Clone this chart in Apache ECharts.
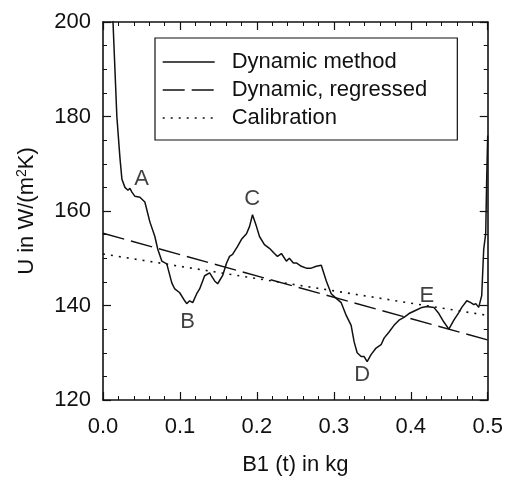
<!DOCTYPE html>
<html>
<head>
<meta charset="utf-8">
<script src="https://cdn.jsdelivr.net/npm/echarts@6/dist/echarts.min.js"></script>
<style>
  html, body { margin: 0; padding: 0; background: #fff; }
  #chart { width: 506px; height: 481px; }
</style>
</head>
<body>
<div id="chart"></div>
<script>
// U-value estimated with the dynamic method, plotted against mass B1(t)
const dynamicB1 = [0.0104, 0.013, 0.0155, 0.018, 0.022, 0.0246, 0.0285, 0.0324, 0.035, 0.0376,
  0.0415, 0.044, 0.048, 0.0544, 0.0609, 0.0674, 0.0712, 0.0764, 0.0829, 0.0894,
  0.0933, 0.0997, 0.1062, 0.1088, 0.1127, 0.1166, 0.1218, 0.1256, 0.1321, 0.1386,
  0.1451, 0.149, 0.1554, 0.1606, 0.1645, 0.1684, 0.1749, 0.18, 0.1865, 0.1904,
  0.1943, 0.1995, 0.2034, 0.2098, 0.2163, 0.2228, 0.2267, 0.2319, 0.2383, 0.2422,
  0.2474, 0.2513, 0.2578, 0.2642, 0.2707, 0.2772, 0.2837, 0.2902, 0.2966, 0.3031,
  0.3096, 0.3161, 0.3225, 0.3264, 0.3303, 0.3355, 0.3394, 0.3433, 0.3484, 0.3549,
  0.3614, 0.3653, 0.3718, 0.3782, 0.3847, 0.3912, 0.3977, 0.4067, 0.4145, 0.421,
  0.43, 0.4365, 0.443, 0.4495, 0.456, 0.4624, 0.4663, 0.4728, 0.478, 0.4819,
  0.4845, 0.4883, 0.4922, 0.4948, 0.4974, 0.4987, 0.5];
const dynamicU = [202.5, 200, 190, 180, 171.3, 166.7, 165, 164.4, 164.8, 164,
  163.1, 163.5, 162.9, 161.9, 157.7, 154.6, 151.9, 149.4, 148.8, 144.8,
  143.5, 142.7, 141, 140.4, 141, 140.6, 142.5, 143.5, 146.3, 146.9,
  145.2, 144.6, 146.3, 149, 150.4, 150.8, 152.5, 154, 155.2, 156.7,
  159.2, 156.7, 154.6, 152.9, 152.1, 151, 150.4, 151, 149.4, 150,
  149, 149, 148.3, 147.9, 147.9, 148.3, 148.5, 145.2, 142.5, 141.5,
  140.6, 137.9, 135.8, 132.3, 130, 129.2, 129.2, 128.1, 129.6, 131,
  131.7, 133.1, 134.4, 135.8, 136.9, 137.5, 138.3, 139, 139.6, 139.8,
  139.6, 138.3, 136.5, 135, 136.9, 138.5, 139.6, 141, 140.6, 140.2,
  140.4, 139.6, 142.1, 151.9, 155.2, 167, 176];

// Linear regression of the dynamic result
const regressedB1 = [0, 0.5];
const regressedU = [155.3, 132.7];

// Calibration line
const calibrationB1 = [0, 0.5];
const calibrationU = [150.9, 137.9];

// Marked points on the curve
const markNames = ['A', 'B', 'C', 'D', 'E'];
const markB1 = [0.05, 0.11, 0.194, 0.337, 0.421];
const markU = [166.7, 136.5, 162.5, 125.4, 142.1];

const xTicks = [0, 0.1, 0.2, 0.3, 0.4, 0.5];
const yTicks = [120, 140, 160, 180, 200];

const seriesNames = ['Dynamic method', 'Dynamic, regressed', 'Calibration'];

const zip = (xs, ys) => xs.map((x, i) => [x, ys[i]]);

const FONT = '"Liberation Sans", Arial, Helvetica, sans-serif';
const INK = '#111';

const SOLID = 'solid';
const DASHED = [22, 7];
const DOTTED = [2, 6];

const chart = echarts.init(document.getElementById('chart'), null, { renderer: 'canvas' });

const axisCommon = {
  axisLine: { show: true, onZero: false, lineStyle: { color: INK, width: 1.6 } },
  axisTick: { show: true, inside: true, length: 8, lineStyle: { color: INK, width: 1.2 } },
  minorTick: { show: true, length: 4, lineStyle: { color: INK, width: 1 } },
  splitLine: { show: false },
  minorSplitLine: { show: false }
};

chart.setOption({
  backgroundColor: '#fff',
  animation: false,
  grid: { left: 103, right: 17, top: 22, bottom: 75, containLabel: false },
  xAxis: [
    Object.assign({}, axisCommon, {
      type: 'value', position: 'bottom',
      min: xTicks[0], max: xTicks[xTicks.length - 1], interval: 0.1,
      minorTick: Object.assign({}, axisCommon.minorTick, { splitNumber: 5 }),
      axisLabel: { color: INK, fontSize: 22, fontFamily: FONT, margin: 16,
        formatter: v => v.toFixed(1) },
      name: 'B1 (t) in kg', nameLocation: 'middle', nameGap: 54,
      nameTextStyle: { color: INK, fontSize: 22, fontFamily: FONT }
    }),
    Object.assign({}, axisCommon, {
      type: 'value', position: 'top',
      min: xTicks[0], max: xTicks[xTicks.length - 1], interval: 0.1,
      minorTick: Object.assign({}, axisCommon.minorTick, { splitNumber: 5 }),
      axisLabel: { show: false }
    })
  ],
  yAxis: [
    Object.assign({}, axisCommon, {
      type: 'value', position: 'left',
      min: yTicks[0], max: yTicks[yTicks.length - 1], interval: 20,
      minorTick: Object.assign({}, axisCommon.minorTick, { splitNumber: 4 }),
      axisLabel: { color: INK, fontSize: 22, fontFamily: FONT, margin: 12 },
      name: 'U in W/(m{sup|2}K)', nameLocation: 'middle', nameGap: 64,
      nameTextStyle: { color: INK, fontSize: 22, fontFamily: FONT,
        rich: { sup: { fontSize: 14, fontFamily: FONT, color: INK,
          verticalAlign: 'top', padding: [0, 0, 10, 0] } } }
    }),
    Object.assign({}, axisCommon, {
      type: 'value', position: 'right',
      min: yTicks[0], max: yTicks[yTicks.length - 1], interval: 20,
      minorTick: Object.assign({}, axisCommon.minorTick, { splitNumber: 4 }),
      axisLabel: { show: false }
    })
  ],
  legend: {
    data: [
      { name: seriesNames[0], lineStyle: { type: SOLID } },
      { name: seriesNames[1], lineStyle: { type: DASHED } },
      { name: seriesNames[2], lineStyle: { type: DOTTED } }
    ],
    orient: 'vertical',
    left: 155, top: 38,
    padding: [13, 30, 11, 7],
    itemWidth: 52, itemHeight: 22, itemGap: 6,
    borderColor: INK, borderWidth: 1.2, borderRadius: 0,
    backgroundColor: '#fff',
    itemStyle: { opacity: 0 },
    textStyle: { color: INK, fontSize: 22, fontFamily: FONT, padding: [0, 0, 0, 12] },
    lineStyle: { width: 1.4, color: INK }
  },
  series: [
    {
      name: seriesNames[0], type: 'line', xAxisIndex: 0, yAxisIndex: 0,
      data: zip(dynamicB1, dynamicU), showSymbol: false, symbol: 'none',
      clip: true, smooth: false,
      lineStyle: { color: INK, width: 1.5, type: SOLID }, itemStyle: { color: INK }, z: 3
    },
    {
      name: seriesNames[1], type: 'line', xAxisIndex: 0, yAxisIndex: 0,
      data: zip(regressedB1, regressedU), showSymbol: false, symbol: 'none',
      lineStyle: { color: INK, width: 1.4, type: DASHED }, itemStyle: { color: INK }, z: 2
    },
    {
      name: seriesNames[2], type: 'line', xAxisIndex: 0, yAxisIndex: 0,
      data: zip(calibrationB1, calibrationU), showSymbol: false, symbol: 'none',
      lineStyle: { color: INK, width: 1.6, type: DOTTED }, itemStyle: { color: INK }, z: 2
    },
    {
      name: 'labels', type: 'scatter', xAxisIndex: 0, yAxisIndex: 0,
      data: markNames.map((n, i) => ({ name: n, value: [markB1[i], markU[i]] })),
      symbolSize: 0, silent: true,
      label: { show: true, position: 'inside', formatter: p => p.name,
        color: INK, fontSize: 22, fontFamily: FONT }
    }
  ]
});
</script>
</body>
</html>
